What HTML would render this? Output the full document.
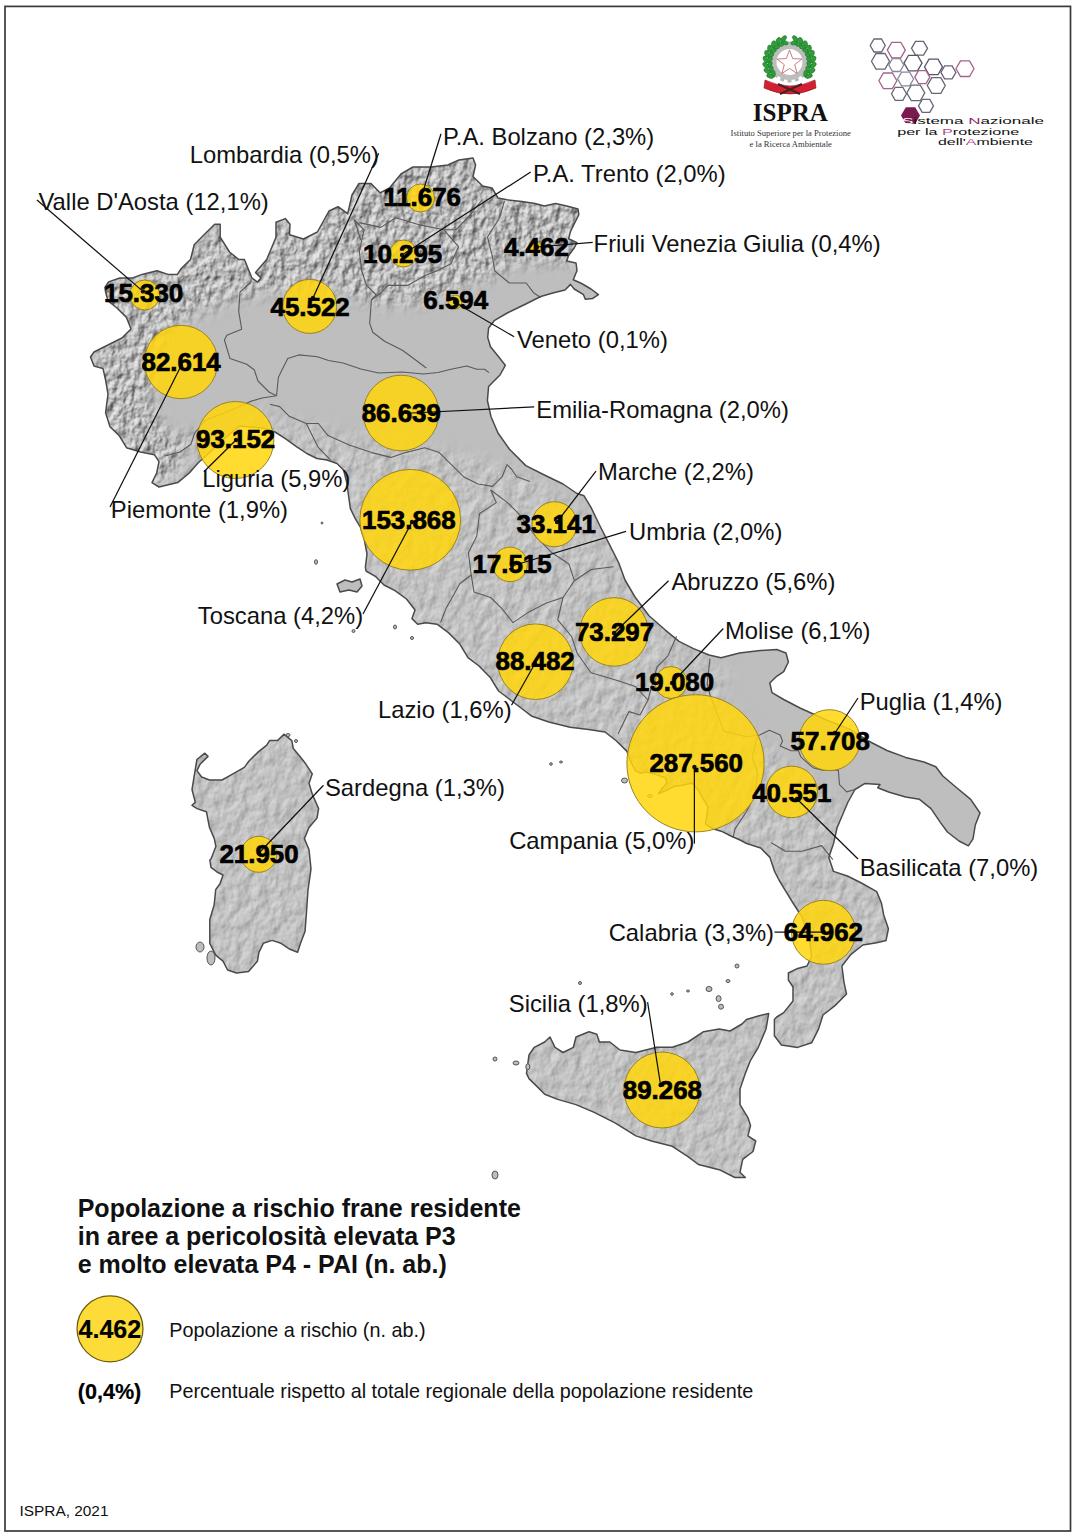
<!DOCTYPE html>
<html><head><meta charset="utf-8"><style>
html,body{margin:0;padding:0;background:#fff;}
body{width:1075px;height:1537px;overflow:hidden;position:relative;}
svg{position:absolute;left:0;top:0;}
text{font-family:"Liberation Sans",sans-serif;fill:#111;}
.lb{font-size:23.8px;}
.nm{font-size:25.9px;font-weight:700;fill:#000;stroke:#000;stroke-width:0.7px;}
.tt{font-size:25px;font-weight:700;}
.lg{font-size:19.8px;}
</style></head><body>
<svg width="1075" height="1537" viewBox="0 0 1075 1537">
<rect x="5" y="6.4" width="1065.5" height="1524.6" fill="none" stroke="#3a3a3a" stroke-width="1.7"/>
<defs><clipPath id="landclip"><path d="M104.9,287.4 L108.6,281.9 L119.8,278.0 L132.8,278.0 L142.0,274.4 L157.0,270.7 L168.0,274.4 L177.4,274.4 L181.0,268.8 L190.5,259.5 L194.2,244.7 L205.3,233.5 L214.7,224.2 L220.2,224.2 L220.2,237.2 L229.5,252.0 L238.8,259.5 L244.4,259.5 L251.9,278.0 L257.4,282.0 L261.0,278.0 L255.6,272.6 L266.7,259.5 L276.0,237.2 L276.0,222.3 L285.3,218.6 L290.0,224.2 L289.5,234.7 L303.5,239.0 L317.4,232.0 L329.0,211.0 L338.0,206.7 L347.7,213.7 L352.0,195.0 L359.0,183.5 L371.0,183.5 L380.0,192.8 L389.5,188.0 L401.0,174.0 L413.0,167.0 L431.0,167.0 L447.7,165.0 L459.0,160.0 L473.0,158.0 L475.6,165.0 L473.0,176.5 L482.6,186.0 L492.0,188.0 L498.0,198.0 L507.0,199.8 L522.0,201.6 L535.0,203.5 L544.4,206.0 L555.6,203.5 L566.7,206.0 L578.0,209.0 L578.8,214.7 L574.2,224.0 L570.5,231.4 L568.6,238.8 L577.0,242.6 L574.2,248.0 L568.6,255.6 L566.7,261.0 L576.0,263.0 L577.0,270.5 L573.3,279.8 L581.6,283.5 L591.0,289.0 L598.4,294.7 L592.8,298.4 L585.3,299.3 L583.5,294.7 L574.2,289.0 L570.5,284.4 L565.0,290.0 L553.7,292.8 L540.7,296.5 L525.8,304.0 L507.2,313.0 L494.2,320.7 L488.6,328.0 L487.7,337.4 L490.5,346.7 L498.0,356.0 L505.3,365.3 L500.0,375.0 L493.0,382.0 L488.6,386.5 L487.4,400.5 L491.0,416.7 L498.0,433.0 L509.5,449.3 L525.8,465.6 L544.4,475.0 L563.0,484.0 L577.0,493.5 L584.0,495.8 L591.0,507.4 L600.0,526.0 L609.5,544.7 L618.8,563.0 L625.0,580.0 L635.0,597.0 L649.0,615.8 L665.0,629.8 L679.0,641.4 L693.0,648.4 L709.0,655.0 L721.0,657.7 L739.5,653.0 L758.0,650.7 L776.7,649.5 L786.0,653.0 L788.4,662.0 L783.7,671.6 L776.7,676.3 L769.8,683.0 L772.0,692.6 L783.7,699.5 L800.0,708.0 L826.5,720.0 L850.0,729.5 L868.4,741.0 L887.0,750.5 L905.6,757.4 L924.0,762.0 L935.8,766.7 L942.8,776.0 L956.7,787.7 L970.7,799.3 L980.0,813.0 L975.3,825.0 L973.0,838.8 L968.4,845.8 L959.0,841.0 L947.4,832.0 L940.5,822.6 L931.0,808.6 L919.5,799.3 L905.6,797.0 L889.3,792.3 L877.7,787.7 L880.0,784.6 L865.0,783.4 L855.0,789.5 L848.0,802.0 L842.0,816.0 L837.0,828.0 L833.5,843.5 L828.8,857.4 L833.5,871.4 L847.4,876.0 L861.4,883.0 L876.7,891.6 L881.4,903.0 L883.7,915.0 L888.4,928.8 L886.0,940.5 L876.7,942.8 L862.8,945.0 L851.0,954.4 L841.9,966.0 L844.0,982.3 L846.5,994.0 L835.0,1005.6 L823.0,1015.0 L818.6,1028.8 L811.6,1042.8 L797.7,1047.4 L781.4,1045.0 L774.4,1035.8 L774.4,1019.5 L776.7,1017.0 L783.7,1012.6 L793.0,1001.0 L793.0,987.0 L788.4,980.0 L788.4,973.0 L797.7,968.4 L807.0,966.0 L811.6,956.7 L809.3,938.0 L802.0,917.0 L793.0,903.0 L786.0,891.6 L779.0,880.0 L774.6,871.4 L770.0,857.4 L760.7,848.0 L746.7,843.5 L740.0,840.0 L731.0,836.0 L721.2,831.2 L712.8,828.8 L705.5,824.0 L706.7,816.7 L708.0,807.0 L703.1,798.6 L698.3,790.1 L692.2,782.9 L682.5,785.3 L674.0,786.5 L666.8,790.1 L658.4,793.8 L660.8,790.1 L666.8,782.9 L665.6,778.0 L656.0,774.4 L646.3,772.0 L640.2,773.2 L635.4,770.8 L630.0,760.0 L627.0,751.4 L616.5,741.0 L605.0,732.0 L588.6,729.5 L570.0,727.2 L548.8,722.0 L532.0,716.3 L521.0,708.0 L509.8,699.5 L498.6,691.0 L490.0,677.2 L479.0,666.0 L468.0,657.7 L459.5,643.7 L448.4,632.6 L437.0,624.2 L426.0,622.8 L417.7,624.2 L412.0,618.6 L415.0,610.0 L406.5,599.0 L395.0,590.7 L384.0,585.0 L375.8,576.7 L366.0,571.0 L365.4,567.4 L367.0,554.0 L363.8,537.0 L360.4,527.2 L355.4,518.8 L350.4,508.7 L348.7,497.0 L347.0,483.6 L343.7,470.2 L337.0,463.5 L327.0,460.0 L316.9,458.5 L306.8,453.5 L296.8,446.8 L285.0,438.4 L275.0,432.0 L262.0,428.0 L250.0,427.0 L239.5,426.0 L225.0,438.0 L210.0,452.0 L198.0,463.0 L189.3,473.0 L177.7,482.6 L159.0,487.0 L152.0,482.6 L156.7,473.0 L159.0,461.6 L154.4,454.7 L140.5,452.0 L126.5,447.7 L119.5,436.0 L110.0,426.7 L105.6,412.8 L108.0,394.0 L105.6,380.0 L103.0,368.6 L94.0,366.0 L90.5,357.0 L94.0,352.0 L108.0,345.0 L121.9,338.0 L131.0,329.0 L126.5,317.4 L117.0,308.0 L108.0,301.0 L105.6,292.0ZM526.5,1073.4 L529.0,1055.0 L534.3,1047.3 L544.7,1042.0 L550.0,1037.0 L555.0,1047.3 L563.0,1052.5 L573.4,1047.3 L576.0,1037.0 L589.0,1031.7 L596.8,1034.3 L599.4,1042.0 L609.8,1042.0 L620.0,1050.0 L635.9,1052.5 L656.7,1047.3 L672.3,1047.3 L688.0,1042.0 L703.6,1031.7 L719.2,1029.0 L730.0,1031.0 L742.0,1024.0 L746.5,1019.5 L758.3,1016.0 L768.7,1013.4 L766.0,1029.0 L758.3,1047.3 L750.5,1060.3 L745.3,1073.4 L740.0,1089.0 L740.0,1104.6 L747.9,1117.6 L750.5,1125.5 L747.9,1135.9 L755.7,1141.0 L753.0,1151.5 L742.7,1159.3 L740.0,1172.3 L745.3,1177.5 L734.9,1177.5 L719.2,1169.7 L698.4,1164.5 L688.0,1156.7 L672.3,1146.3 L651.5,1141.0 L635.9,1135.9 L615.0,1122.8 L594.2,1112.4 L576.0,1104.6 L557.7,1099.4 L544.7,1094.2 L536.9,1086.4 L529.0,1078.6ZM204.8,753.2 L208.0,756.4 L200.0,764.3 L196.9,770.6 L201.6,777.0 L209.5,780.0 L222.0,780.0 L233.0,773.8 L244.3,767.4 L249.0,761.0 L258.6,751.6 L266.5,745.3 L269.6,740.6 L277.5,740.6 L283.9,734.2 L291.8,740.6 L293.3,748.5 L301.2,758.0 L306.0,764.3 L312.3,773.8 L309.0,783.3 L312.3,794.3 L318.6,808.6 L317.0,818.0 L309.0,827.5 L304.4,838.6 L309.0,849.7 L311.0,869.0 L308.0,889.8 L306.5,912.0 L305.0,931.4 L300.5,943.3 L297.6,952.3 L290.0,949.3 L281.0,943.3 L272.0,940.4 L263.3,943.3 L258.9,952.3 L257.4,961.2 L248.5,971.6 L236.5,973.0 L227.6,970.0 L223.0,961.2 L215.7,955.2 L209.8,943.3 L209.8,931.4 L209.8,919.5 L214.2,904.6 L215.7,889.8 L220.0,883.8 L223.0,875.0 L217.0,872.0 L211.0,867.4 L209.8,860.0 L211.0,859.0 L215.9,846.5 L214.3,838.6 L209.5,827.5 L206.4,811.7 L197.0,808.6 L192.0,805.4 L195.3,802.2 L192.0,789.6 L196.9,759.5ZM337.0,584.0 L345.0,580.0 L352.0,582.0 L360.0,579.0 L362.0,586.0 L357.0,592.0 L349.0,590.0 L340.0,592.0Z"/></clipPath><filter id="bl" x="0" y="0" width="1075" height="1537" filterUnits="userSpaceOnUse"><feGaussianBlur stdDeviation="8"/></filter><mask id="mtA" maskUnits="userSpaceOnUse" x="0" y="0" width="1075" height="1537"><g filter="url(#bl)"><path d="M95.0,280.0 L180.0,260.0 L220.0,215.0 L290.0,210.0 L360.0,170.0 L480.0,150.0 L590.0,200.0 L590.0,262.0 L520.0,262.0 L480.0,280.0 L440.0,300.0 L380.0,305.0 L330.0,290.0 L280.0,290.0 L230.0,300.0 L180.0,320.0 L160.0,350.0 L150.0,400.0 L170.0,440.0 L200.0,430.0 L160.0,500.0 L90.0,500.0Z" fill="#fff"/></g></mask><mask id="mtB" maskUnits="userSpaceOnUse" x="0" y="0" width="1075" height="1537"><g filter="url(#bl)"><path d="M150.0,500.0 L200.0,440.0 L260.0,410.0 L330.0,430.0 L420.0,445.0 L520.0,468.0 L600.0,520.0 L640.0,600.0 L690.0,650.0 L730.0,670.0 L720.0,700.0 L760.0,740.0 L840.0,800.0 L860.0,880.0 L900.0,900.0 L900.0,1060.0 L760.0,1060.0 L600.0,740.0 L520.0,720.0 L400.0,630.0 L330.0,500.0Z" fill="#fff"/><path d="M180.0,720.0 L330.0,720.0 L330.0,990.0 L180.0,990.0Z" fill="#fff"/><path d="M490.0,1000.0 L780.0,1000.0 L780.0,1190.0 L490.0,1190.0Z" fill="#fff"/></g></mask><filter id="hsA" x="0" y="0" width="1075" height="1537" filterUnits="userSpaceOnUse" color-interpolation-filters="sRGB"><feTurbulence type="fractalNoise" baseFrequency="0.12 0.09" numOctaves="3" seed="11" result="n"/><feDiffuseLighting in="n" surfaceScale="3.4" diffuseConstant="1.02" lighting-color="#ffffff"><feDistantLight azimuth="225" elevation="45"/></feDiffuseLighting></filter><filter id="hsB" x="0" y="0" width="1075" height="1537" filterUnits="userSpaceOnUse" color-interpolation-filters="sRGB"><feTurbulence type="fractalNoise" baseFrequency="0.09 0.07" numOctaves="3" seed="5" result="n"/><feDiffuseLighting in="n" surfaceScale="1.7" diffuseConstant="1.0" lighting-color="#ffffff"><feDistantLight azimuth="225" elevation="50"/></feDiffuseLighting></filter></defs>
<path d="M104.9,287.4 L108.6,281.9 L119.8,278.0 L132.8,278.0 L142.0,274.4 L157.0,270.7 L168.0,274.4 L177.4,274.4 L181.0,268.8 L190.5,259.5 L194.2,244.7 L205.3,233.5 L214.7,224.2 L220.2,224.2 L220.2,237.2 L229.5,252.0 L238.8,259.5 L244.4,259.5 L251.9,278.0 L257.4,282.0 L261.0,278.0 L255.6,272.6 L266.7,259.5 L276.0,237.2 L276.0,222.3 L285.3,218.6 L290.0,224.2 L289.5,234.7 L303.5,239.0 L317.4,232.0 L329.0,211.0 L338.0,206.7 L347.7,213.7 L352.0,195.0 L359.0,183.5 L371.0,183.5 L380.0,192.8 L389.5,188.0 L401.0,174.0 L413.0,167.0 L431.0,167.0 L447.7,165.0 L459.0,160.0 L473.0,158.0 L475.6,165.0 L473.0,176.5 L482.6,186.0 L492.0,188.0 L498.0,198.0 L507.0,199.8 L522.0,201.6 L535.0,203.5 L544.4,206.0 L555.6,203.5 L566.7,206.0 L578.0,209.0 L578.8,214.7 L574.2,224.0 L570.5,231.4 L568.6,238.8 L577.0,242.6 L574.2,248.0 L568.6,255.6 L566.7,261.0 L576.0,263.0 L577.0,270.5 L573.3,279.8 L581.6,283.5 L591.0,289.0 L598.4,294.7 L592.8,298.4 L585.3,299.3 L583.5,294.7 L574.2,289.0 L570.5,284.4 L565.0,290.0 L553.7,292.8 L540.7,296.5 L525.8,304.0 L507.2,313.0 L494.2,320.7 L488.6,328.0 L487.7,337.4 L490.5,346.7 L498.0,356.0 L505.3,365.3 L500.0,375.0 L493.0,382.0 L488.6,386.5 L487.4,400.5 L491.0,416.7 L498.0,433.0 L509.5,449.3 L525.8,465.6 L544.4,475.0 L563.0,484.0 L577.0,493.5 L584.0,495.8 L591.0,507.4 L600.0,526.0 L609.5,544.7 L618.8,563.0 L625.0,580.0 L635.0,597.0 L649.0,615.8 L665.0,629.8 L679.0,641.4 L693.0,648.4 L709.0,655.0 L721.0,657.7 L739.5,653.0 L758.0,650.7 L776.7,649.5 L786.0,653.0 L788.4,662.0 L783.7,671.6 L776.7,676.3 L769.8,683.0 L772.0,692.6 L783.7,699.5 L800.0,708.0 L826.5,720.0 L850.0,729.5 L868.4,741.0 L887.0,750.5 L905.6,757.4 L924.0,762.0 L935.8,766.7 L942.8,776.0 L956.7,787.7 L970.7,799.3 L980.0,813.0 L975.3,825.0 L973.0,838.8 L968.4,845.8 L959.0,841.0 L947.4,832.0 L940.5,822.6 L931.0,808.6 L919.5,799.3 L905.6,797.0 L889.3,792.3 L877.7,787.7 L880.0,784.6 L865.0,783.4 L855.0,789.5 L848.0,802.0 L842.0,816.0 L837.0,828.0 L833.5,843.5 L828.8,857.4 L833.5,871.4 L847.4,876.0 L861.4,883.0 L876.7,891.6 L881.4,903.0 L883.7,915.0 L888.4,928.8 L886.0,940.5 L876.7,942.8 L862.8,945.0 L851.0,954.4 L841.9,966.0 L844.0,982.3 L846.5,994.0 L835.0,1005.6 L823.0,1015.0 L818.6,1028.8 L811.6,1042.8 L797.7,1047.4 L781.4,1045.0 L774.4,1035.8 L774.4,1019.5 L776.7,1017.0 L783.7,1012.6 L793.0,1001.0 L793.0,987.0 L788.4,980.0 L788.4,973.0 L797.7,968.4 L807.0,966.0 L811.6,956.7 L809.3,938.0 L802.0,917.0 L793.0,903.0 L786.0,891.6 L779.0,880.0 L774.6,871.4 L770.0,857.4 L760.7,848.0 L746.7,843.5 L740.0,840.0 L731.0,836.0 L721.2,831.2 L712.8,828.8 L705.5,824.0 L706.7,816.7 L708.0,807.0 L703.1,798.6 L698.3,790.1 L692.2,782.9 L682.5,785.3 L674.0,786.5 L666.8,790.1 L658.4,793.8 L660.8,790.1 L666.8,782.9 L665.6,778.0 L656.0,774.4 L646.3,772.0 L640.2,773.2 L635.4,770.8 L630.0,760.0 L627.0,751.4 L616.5,741.0 L605.0,732.0 L588.6,729.5 L570.0,727.2 L548.8,722.0 L532.0,716.3 L521.0,708.0 L509.8,699.5 L498.6,691.0 L490.0,677.2 L479.0,666.0 L468.0,657.7 L459.5,643.7 L448.4,632.6 L437.0,624.2 L426.0,622.8 L417.7,624.2 L412.0,618.6 L415.0,610.0 L406.5,599.0 L395.0,590.7 L384.0,585.0 L375.8,576.7 L366.0,571.0 L365.4,567.4 L367.0,554.0 L363.8,537.0 L360.4,527.2 L355.4,518.8 L350.4,508.7 L348.7,497.0 L347.0,483.6 L343.7,470.2 L337.0,463.5 L327.0,460.0 L316.9,458.5 L306.8,453.5 L296.8,446.8 L285.0,438.4 L275.0,432.0 L262.0,428.0 L250.0,427.0 L239.5,426.0 L225.0,438.0 L210.0,452.0 L198.0,463.0 L189.3,473.0 L177.7,482.6 L159.0,487.0 L152.0,482.6 L156.7,473.0 L159.0,461.6 L154.4,454.7 L140.5,452.0 L126.5,447.7 L119.5,436.0 L110.0,426.7 L105.6,412.8 L108.0,394.0 L105.6,380.0 L103.0,368.6 L94.0,366.0 L90.5,357.0 L94.0,352.0 L108.0,345.0 L121.9,338.0 L131.0,329.0 L126.5,317.4 L117.0,308.0 L108.0,301.0 L105.6,292.0ZM526.5,1073.4 L529.0,1055.0 L534.3,1047.3 L544.7,1042.0 L550.0,1037.0 L555.0,1047.3 L563.0,1052.5 L573.4,1047.3 L576.0,1037.0 L589.0,1031.7 L596.8,1034.3 L599.4,1042.0 L609.8,1042.0 L620.0,1050.0 L635.9,1052.5 L656.7,1047.3 L672.3,1047.3 L688.0,1042.0 L703.6,1031.7 L719.2,1029.0 L730.0,1031.0 L742.0,1024.0 L746.5,1019.5 L758.3,1016.0 L768.7,1013.4 L766.0,1029.0 L758.3,1047.3 L750.5,1060.3 L745.3,1073.4 L740.0,1089.0 L740.0,1104.6 L747.9,1117.6 L750.5,1125.5 L747.9,1135.9 L755.7,1141.0 L753.0,1151.5 L742.7,1159.3 L740.0,1172.3 L745.3,1177.5 L734.9,1177.5 L719.2,1169.7 L698.4,1164.5 L688.0,1156.7 L672.3,1146.3 L651.5,1141.0 L635.9,1135.9 L615.0,1122.8 L594.2,1112.4 L576.0,1104.6 L557.7,1099.4 L544.7,1094.2 L536.9,1086.4 L529.0,1078.6ZM204.8,753.2 L208.0,756.4 L200.0,764.3 L196.9,770.6 L201.6,777.0 L209.5,780.0 L222.0,780.0 L233.0,773.8 L244.3,767.4 L249.0,761.0 L258.6,751.6 L266.5,745.3 L269.6,740.6 L277.5,740.6 L283.9,734.2 L291.8,740.6 L293.3,748.5 L301.2,758.0 L306.0,764.3 L312.3,773.8 L309.0,783.3 L312.3,794.3 L318.6,808.6 L317.0,818.0 L309.0,827.5 L304.4,838.6 L309.0,849.7 L311.0,869.0 L308.0,889.8 L306.5,912.0 L305.0,931.4 L300.5,943.3 L297.6,952.3 L290.0,949.3 L281.0,943.3 L272.0,940.4 L263.3,943.3 L258.9,952.3 L257.4,961.2 L248.5,971.6 L236.5,973.0 L227.6,970.0 L223.0,961.2 L215.7,955.2 L209.8,943.3 L209.8,931.4 L209.8,919.5 L214.2,904.6 L215.7,889.8 L220.0,883.8 L223.0,875.0 L217.0,872.0 L211.0,867.4 L209.8,860.0 L211.0,859.0 L215.9,846.5 L214.3,838.6 L209.5,827.5 L206.4,811.7 L197.0,808.6 L192.0,805.4 L195.3,802.2 L192.0,789.6 L196.9,759.5ZM337.0,584.0 L345.0,580.0 L352.0,582.0 L360.0,579.0 L362.0,586.0 L357.0,592.0 L349.0,590.0 L340.0,592.0Z" fill="#bebebe"/>
<g clip-path="url(#landclip)"><g mask="url(#mtA)"><rect x="0" y="0" width="1075" height="1537" filter="url(#hsA)" opacity="0.62"/></g><g mask="url(#mtB)"><rect x="0" y="0" width="1075" height="1537" filter="url(#hsB)" opacity="0.5"/></g></g>
<polyline points="251,282 240,292 238.7,311.4 241.7,329.3 226.8,335.3 224.4,340 230,358.6 246.7,364.2 254.2,369.8 258,381 269,392 276.5,395.8" fill="none" stroke="#5a5a5a" stroke-width="1.1" stroke-linejoin="round"/>
<polyline points="276.5,395.8 278.4,377.2 287.7,358.6 298.8,354.9 317.4,356.7 328.6,360.5 343,363 360.8,369 378.6,373 402.4,372 423.3,374 438,372.5 451,369.3 466.8,366 476.8,369.3 484.6,369.3 489,372.6" fill="none" stroke="#5a5a5a" stroke-width="1.1" stroke-linejoin="round"/>
<polyline points="276.5,395.8 262,398 250.5,401.4 230,410.7 205.8,420 194.7,433 191,444.2 180,452 165,456" fill="none" stroke="#5a5a5a" stroke-width="1.1" stroke-linejoin="round"/>
<polyline points="270,404.2 279.7,406.6 289.3,416.3 306.3,423.5 318.4,423.5 328,435.6 349.8,445.3 371.6,452.6 391,457.4 405.4,452.6 424.8,447.7 439.3,452.6 451.4,464.6 463.5,476.7 478,484 492.5,486.4 502.2,476.7 507,464.6 511.8,469.5 516.7,476.7 530,481.6" fill="none" stroke="#5a5a5a" stroke-width="1.1" stroke-linejoin="round"/>
<polyline points="306.3,423.5 312,435 318.4,447.7 330.5,459.8" fill="none" stroke="#5a5a5a" stroke-width="1.1" stroke-linejoin="round"/>
<polyline points="360.8,240 354.5,220" fill="none" stroke="#5a5a5a" stroke-width="1.1" stroke-linejoin="round"/>
<polyline points="354.5,220 364,230 359.3,251.6 361.8,271 366.6,285.4 376.3,295 371.4,300 369.7,323.4 372.7,332.3 384.6,341.2 402.4,350.2 414.3,359 426.3,368" fill="none" stroke="#5a5a5a" stroke-width="1.1" stroke-linejoin="round"/>
<polyline points="359.3,222.6 381,227.4 395.6,217.7 420,225 444,229.8 456,229.8 470,215 482,200" fill="none" stroke="#5a5a5a" stroke-width="1.1" stroke-linejoin="round"/>
<polyline points="444,229.8 458.5,246.7 451,263.7 436.7,271 424.6,275.8 407.7,285.4 388.4,285.4 381,292.7 371.4,300" fill="none" stroke="#5a5a5a" stroke-width="1.1" stroke-linejoin="round"/>
<polyline points="504.5,200.8 499.6,217.7 487.5,237 492.4,256.4 494.8,271 509.3,283 526.2,283 533.5,292.7 540.7,297.5" fill="none" stroke="#5a5a5a" stroke-width="1.1" stroke-linejoin="round"/>
<polyline points="490.7,490 496.3,502.6 479.5,513.7 476.8,536 468.4,552.8 471.2,575 460,583.5 446,608.6 440.5,622.6" fill="none" stroke="#5a5a5a" stroke-width="1.1" stroke-linejoin="round"/>
<polyline points="490.7,490 507.5,502.6 518.6,513.7 535.4,536 552,552.8 568.9,564 574.4,580.7 563,597.5 546.5,603 529.8,611.4 513,622.6 501.9,608.6 490.7,597.5 474,592 471.2,575" fill="none" stroke="#5a5a5a" stroke-width="1.1" stroke-linejoin="round"/>
<polyline points="613.5,566.8 591.2,569.5 574.4,580.7" fill="none" stroke="#5a5a5a" stroke-width="1.1" stroke-linejoin="round"/>
<polyline points="563,597.5 557.7,619.8 571.6,636.5 577.2,653.3 591,672.8 619,681 635.8,686.8 648,700 640,715 629,711.6 618,734" fill="none" stroke="#5a5a5a" stroke-width="1.1" stroke-linejoin="round"/>
<polyline points="676.5,636.3 668,655.8 657,667 648,700" fill="none" stroke="#5a5a5a" stroke-width="1.1" stroke-linejoin="round"/>
<polyline points="710,658.6 707.2,683.7 710,695 724,731.2 746.3,736.7 759.7,735 769.3,730.2 780.2,735 782.6,741.1 780.2,746 791.1,750.8 798.4,750.8 800.8,756.8 812.9,767.7 822.6,770.1 838.3,770 839.5,784.6 846.7,791.9 855,789.5" fill="none" stroke="#5a5a5a" stroke-width="1.1" stroke-linejoin="round"/>
<polyline points="757.5,736.7 752,756.3 757.5,773 754.7,795.4 746.3,812 735,828.9 733,838" fill="none" stroke="#5a5a5a" stroke-width="1.1" stroke-linejoin="round"/>
<polyline points="771.4,842.8 785.4,851.2 802,851.2 821.6,845.6 832.8,859.6" fill="none" stroke="#5a5a5a" stroke-width="1.1" stroke-linejoin="round"/>
<path d="M104.9,287.4 L108.6,281.9 L119.8,278.0 L132.8,278.0 L142.0,274.4 L157.0,270.7 L168.0,274.4 L177.4,274.4 L181.0,268.8 L190.5,259.5 L194.2,244.7 L205.3,233.5 L214.7,224.2 L220.2,224.2 L220.2,237.2 L229.5,252.0 L238.8,259.5 L244.4,259.5 L251.9,278.0 L257.4,282.0 L261.0,278.0 L255.6,272.6 L266.7,259.5 L276.0,237.2 L276.0,222.3 L285.3,218.6 L290.0,224.2 L289.5,234.7 L303.5,239.0 L317.4,232.0 L329.0,211.0 L338.0,206.7 L347.7,213.7 L352.0,195.0 L359.0,183.5 L371.0,183.5 L380.0,192.8 L389.5,188.0 L401.0,174.0 L413.0,167.0 L431.0,167.0 L447.7,165.0 L459.0,160.0 L473.0,158.0 L475.6,165.0 L473.0,176.5 L482.6,186.0 L492.0,188.0 L498.0,198.0 L507.0,199.8 L522.0,201.6 L535.0,203.5 L544.4,206.0 L555.6,203.5 L566.7,206.0 L578.0,209.0 L578.8,214.7 L574.2,224.0 L570.5,231.4 L568.6,238.8 L577.0,242.6 L574.2,248.0 L568.6,255.6 L566.7,261.0 L576.0,263.0 L577.0,270.5 L573.3,279.8 L581.6,283.5 L591.0,289.0 L598.4,294.7 L592.8,298.4 L585.3,299.3 L583.5,294.7 L574.2,289.0 L570.5,284.4 L565.0,290.0 L553.7,292.8 L540.7,296.5 L525.8,304.0 L507.2,313.0 L494.2,320.7 L488.6,328.0 L487.7,337.4 L490.5,346.7 L498.0,356.0 L505.3,365.3 L500.0,375.0 L493.0,382.0 L488.6,386.5 L487.4,400.5 L491.0,416.7 L498.0,433.0 L509.5,449.3 L525.8,465.6 L544.4,475.0 L563.0,484.0 L577.0,493.5 L584.0,495.8 L591.0,507.4 L600.0,526.0 L609.5,544.7 L618.8,563.0 L625.0,580.0 L635.0,597.0 L649.0,615.8 L665.0,629.8 L679.0,641.4 L693.0,648.4 L709.0,655.0 L721.0,657.7 L739.5,653.0 L758.0,650.7 L776.7,649.5 L786.0,653.0 L788.4,662.0 L783.7,671.6 L776.7,676.3 L769.8,683.0 L772.0,692.6 L783.7,699.5 L800.0,708.0 L826.5,720.0 L850.0,729.5 L868.4,741.0 L887.0,750.5 L905.6,757.4 L924.0,762.0 L935.8,766.7 L942.8,776.0 L956.7,787.7 L970.7,799.3 L980.0,813.0 L975.3,825.0 L973.0,838.8 L968.4,845.8 L959.0,841.0 L947.4,832.0 L940.5,822.6 L931.0,808.6 L919.5,799.3 L905.6,797.0 L889.3,792.3 L877.7,787.7 L880.0,784.6 L865.0,783.4 L855.0,789.5 L848.0,802.0 L842.0,816.0 L837.0,828.0 L833.5,843.5 L828.8,857.4 L833.5,871.4 L847.4,876.0 L861.4,883.0 L876.7,891.6 L881.4,903.0 L883.7,915.0 L888.4,928.8 L886.0,940.5 L876.7,942.8 L862.8,945.0 L851.0,954.4 L841.9,966.0 L844.0,982.3 L846.5,994.0 L835.0,1005.6 L823.0,1015.0 L818.6,1028.8 L811.6,1042.8 L797.7,1047.4 L781.4,1045.0 L774.4,1035.8 L774.4,1019.5 L776.7,1017.0 L783.7,1012.6 L793.0,1001.0 L793.0,987.0 L788.4,980.0 L788.4,973.0 L797.7,968.4 L807.0,966.0 L811.6,956.7 L809.3,938.0 L802.0,917.0 L793.0,903.0 L786.0,891.6 L779.0,880.0 L774.6,871.4 L770.0,857.4 L760.7,848.0 L746.7,843.5 L740.0,840.0 L731.0,836.0 L721.2,831.2 L712.8,828.8 L705.5,824.0 L706.7,816.7 L708.0,807.0 L703.1,798.6 L698.3,790.1 L692.2,782.9 L682.5,785.3 L674.0,786.5 L666.8,790.1 L658.4,793.8 L660.8,790.1 L666.8,782.9 L665.6,778.0 L656.0,774.4 L646.3,772.0 L640.2,773.2 L635.4,770.8 L630.0,760.0 L627.0,751.4 L616.5,741.0 L605.0,732.0 L588.6,729.5 L570.0,727.2 L548.8,722.0 L532.0,716.3 L521.0,708.0 L509.8,699.5 L498.6,691.0 L490.0,677.2 L479.0,666.0 L468.0,657.7 L459.5,643.7 L448.4,632.6 L437.0,624.2 L426.0,622.8 L417.7,624.2 L412.0,618.6 L415.0,610.0 L406.5,599.0 L395.0,590.7 L384.0,585.0 L375.8,576.7 L366.0,571.0 L365.4,567.4 L367.0,554.0 L363.8,537.0 L360.4,527.2 L355.4,518.8 L350.4,508.7 L348.7,497.0 L347.0,483.6 L343.7,470.2 L337.0,463.5 L327.0,460.0 L316.9,458.5 L306.8,453.5 L296.8,446.8 L285.0,438.4 L275.0,432.0 L262.0,428.0 L250.0,427.0 L239.5,426.0 L225.0,438.0 L210.0,452.0 L198.0,463.0 L189.3,473.0 L177.7,482.6 L159.0,487.0 L152.0,482.6 L156.7,473.0 L159.0,461.6 L154.4,454.7 L140.5,452.0 L126.5,447.7 L119.5,436.0 L110.0,426.7 L105.6,412.8 L108.0,394.0 L105.6,380.0 L103.0,368.6 L94.0,366.0 L90.5,357.0 L94.0,352.0 L108.0,345.0 L121.9,338.0 L131.0,329.0 L126.5,317.4 L117.0,308.0 L108.0,301.0 L105.6,292.0ZM526.5,1073.4 L529.0,1055.0 L534.3,1047.3 L544.7,1042.0 L550.0,1037.0 L555.0,1047.3 L563.0,1052.5 L573.4,1047.3 L576.0,1037.0 L589.0,1031.7 L596.8,1034.3 L599.4,1042.0 L609.8,1042.0 L620.0,1050.0 L635.9,1052.5 L656.7,1047.3 L672.3,1047.3 L688.0,1042.0 L703.6,1031.7 L719.2,1029.0 L730.0,1031.0 L742.0,1024.0 L746.5,1019.5 L758.3,1016.0 L768.7,1013.4 L766.0,1029.0 L758.3,1047.3 L750.5,1060.3 L745.3,1073.4 L740.0,1089.0 L740.0,1104.6 L747.9,1117.6 L750.5,1125.5 L747.9,1135.9 L755.7,1141.0 L753.0,1151.5 L742.7,1159.3 L740.0,1172.3 L745.3,1177.5 L734.9,1177.5 L719.2,1169.7 L698.4,1164.5 L688.0,1156.7 L672.3,1146.3 L651.5,1141.0 L635.9,1135.9 L615.0,1122.8 L594.2,1112.4 L576.0,1104.6 L557.7,1099.4 L544.7,1094.2 L536.9,1086.4 L529.0,1078.6ZM204.8,753.2 L208.0,756.4 L200.0,764.3 L196.9,770.6 L201.6,777.0 L209.5,780.0 L222.0,780.0 L233.0,773.8 L244.3,767.4 L249.0,761.0 L258.6,751.6 L266.5,745.3 L269.6,740.6 L277.5,740.6 L283.9,734.2 L291.8,740.6 L293.3,748.5 L301.2,758.0 L306.0,764.3 L312.3,773.8 L309.0,783.3 L312.3,794.3 L318.6,808.6 L317.0,818.0 L309.0,827.5 L304.4,838.6 L309.0,849.7 L311.0,869.0 L308.0,889.8 L306.5,912.0 L305.0,931.4 L300.5,943.3 L297.6,952.3 L290.0,949.3 L281.0,943.3 L272.0,940.4 L263.3,943.3 L258.9,952.3 L257.4,961.2 L248.5,971.6 L236.5,973.0 L227.6,970.0 L223.0,961.2 L215.7,955.2 L209.8,943.3 L209.8,931.4 L209.8,919.5 L214.2,904.6 L215.7,889.8 L220.0,883.8 L223.0,875.0 L217.0,872.0 L211.0,867.4 L209.8,860.0 L211.0,859.0 L215.9,846.5 L214.3,838.6 L209.5,827.5 L206.4,811.7 L197.0,808.6 L192.0,805.4 L195.3,802.2 L192.0,789.6 L196.9,759.5ZM337.0,584.0 L345.0,580.0 L352.0,582.0 L360.0,579.0 L362.0,586.0 L357.0,592.0 L349.0,590.0 L340.0,592.0Z" fill="none" stroke="#4a4a4a" stroke-width="1.5" stroke-linejoin="round"/>
<ellipse cx="624.5" cy="780.5" rx="3" ry="2.5" fill="#bdbdbd" stroke="#555" stroke-width="1"/>
<ellipse cx="650" cy="796" rx="2.5" ry="1.5" fill="#bdbdbd" stroke="#555" stroke-width="1"/>
<ellipse cx="353.5" cy="631" rx="1.5" ry="1.5" fill="#bdbdbd" stroke="#555" stroke-width="1"/>
<ellipse cx="395" cy="627" rx="1.5" ry="2" fill="#bdbdbd" stroke="#555" stroke-width="1"/>
<ellipse cx="412" cy="638" rx="1.5" ry="1.5" fill="#bdbdbd" stroke="#555" stroke-width="1"/>
<ellipse cx="322" cy="523" rx="1" ry="1" fill="#bdbdbd" stroke="#555" stroke-width="1"/>
<ellipse cx="316" cy="562" rx="1.5" ry="2.3" fill="#bdbdbd" stroke="#555" stroke-width="1"/>
<ellipse cx="551" cy="764" rx="1.3" ry="1.3" fill="#bdbdbd" stroke="#555" stroke-width="1"/>
<ellipse cx="561" cy="762" rx="1.5" ry="1" fill="#bdbdbd" stroke="#555" stroke-width="1"/>
<ellipse cx="580" cy="983" rx="1.5" ry="1.5" fill="#bdbdbd" stroke="#555" stroke-width="1"/>
<ellipse cx="288" cy="735" rx="2" ry="1.5" fill="#bdbdbd" stroke="#555" stroke-width="1"/>
<ellipse cx="296" cy="741" rx="1.5" ry="1.5" fill="#bdbdbd" stroke="#555" stroke-width="1"/>
<ellipse cx="672" cy="994" rx="1.3" ry="1.3" fill="#bdbdbd" stroke="#555" stroke-width="1"/>
<ellipse cx="688" cy="991" rx="1.5" ry="1" fill="#bdbdbd" stroke="#555" stroke-width="1"/>
<ellipse cx="709" cy="989" rx="3" ry="2.5" fill="#bdbdbd" stroke="#555" stroke-width="1"/>
<ellipse cx="718.6" cy="998.6" rx="2.5" ry="3" fill="#bdbdbd" stroke="#555" stroke-width="1"/>
<ellipse cx="721" cy="1006.7" rx="2.5" ry="2.5" fill="#bdbdbd" stroke="#555" stroke-width="1"/>
<ellipse cx="728" cy="981" rx="2" ry="1.5" fill="#bdbdbd" stroke="#555" stroke-width="1"/>
<ellipse cx="737" cy="966" rx="2" ry="2" fill="#bdbdbd" stroke="#555" stroke-width="1"/>
<ellipse cx="495" cy="1059" rx="2" ry="2" fill="#bdbdbd" stroke="#555" stroke-width="1"/>
<ellipse cx="516" cy="1063" rx="3" ry="2" fill="#bdbdbd" stroke="#555" stroke-width="1"/>
<ellipse cx="527.8" cy="1066.8" rx="2" ry="3" fill="#bdbdbd" stroke="#555" stroke-width="1"/>
<ellipse cx="495" cy="1175" rx="3" ry="4" fill="#bdbdbd" stroke="#555" stroke-width="1"/>
<ellipse cx="200" cy="947" rx="4" ry="5" fill="#bdbdbd" stroke="#555" stroke-width="1"/>
<ellipse cx="211" cy="958" rx="4" ry="7" fill="#bdbdbd" stroke="#555" stroke-width="1"/>
<ellipse cx="365" cy="525" rx="1" ry="1" fill="#bdbdbd" stroke="#555" stroke-width="1"/>
<circle cx="144.7" cy="295" r="15" fill="#ffd60a" fill-opacity="0.85" stroke="#9a8420" stroke-width="1"/>
<circle cx="309.7" cy="306.4" r="27" fill="#ffd60a" fill-opacity="0.85" stroke="#9a8420" stroke-width="1"/>
<circle cx="420.6" cy="198" r="14" fill="#ffd60a" fill-opacity="0.85" stroke="#9a8420" stroke-width="1"/>
<circle cx="403.3" cy="253.5" r="13.5" fill="#ffd60a" fill-opacity="0.85" stroke="#9a8420" stroke-width="1"/>
<circle cx="535.8" cy="247.4" r="6" fill="#ffd60a" fill-opacity="0.85" stroke="#9a8420" stroke-width="1"/>
<circle cx="455" cy="302" r="7" fill="#ffd60a" fill-opacity="0.85" stroke="#9a8420" stroke-width="1"/>
<circle cx="181" cy="362" r="36.7" fill="#ffd60a" fill-opacity="0.85" stroke="#9a8420" stroke-width="1"/>
<circle cx="401" cy="413" r="37.8" fill="#ffd60a" fill-opacity="0.85" stroke="#9a8420" stroke-width="1"/>
<circle cx="235.4" cy="440" r="38.5" fill="#ffd60a" fill-opacity="0.85" stroke="#9a8420" stroke-width="1"/>
<circle cx="410.2" cy="519.8" r="50.4" fill="#ffd60a" fill-opacity="0.85" stroke="#9a8420" stroke-width="1"/>
<circle cx="554.5" cy="524.2" r="22.5" fill="#ffd60a" fill-opacity="0.85" stroke="#9a8420" stroke-width="1"/>
<circle cx="510" cy="564.4" r="17.3" fill="#ffd60a" fill-opacity="0.85" stroke="#9a8420" stroke-width="1"/>
<circle cx="614" cy="631.9" r="34.3" fill="#ffd60a" fill-opacity="0.85" stroke="#9a8420" stroke-width="1"/>
<circle cx="535.5" cy="661.7" r="37.8" fill="#ffd60a" fill-opacity="0.85" stroke="#9a8420" stroke-width="1"/>
<circle cx="671" cy="682.5" r="16" fill="#ffd60a" fill-opacity="0.85" stroke="#9a8420" stroke-width="1"/>
<circle cx="695.5" cy="763.3" r="68.6" fill="#ffd60a" fill-opacity="0.85" stroke="#9a8420" stroke-width="1"/>
<circle cx="829.5" cy="740.2" r="30.5" fill="#ffd60a" fill-opacity="0.85" stroke="#9a8420" stroke-width="1"/>
<circle cx="791.7" cy="791.9" r="25.8" fill="#ffd60a" fill-opacity="0.85" stroke="#9a8420" stroke-width="1"/>
<circle cx="823.5" cy="932.3" r="32" fill="#ffd60a" fill-opacity="0.85" stroke="#9a8420" stroke-width="1"/>
<circle cx="662" cy="1090" r="38" fill="#ffd60a" fill-opacity="0.85" stroke="#9a8420" stroke-width="1"/>
<circle cx="258.8" cy="854.3" r="18" fill="#ffd60a" fill-opacity="0.85" stroke="#9a8420" stroke-width="1"/>
<line x1="37" y1="200" x2="143" y2="291.4" stroke="#111" stroke-width="1.25"/>
<line x1="378.7" y1="153.3" x2="313" y2="298" stroke="#111" stroke-width="1.25"/>
<line x1="441" y1="133.7" x2="421" y2="198" stroke="#111" stroke-width="1.25"/>
<line x1="530.7" y1="172" x2="402" y2="255" stroke="#111" stroke-width="1.25"/>
<line x1="592.7" y1="242.3" x2="537" y2="247" stroke="#111" stroke-width="1.25"/>
<line x1="462" y1="306.5" x2="514.2" y2="336.8" stroke="#111" stroke-width="1.25"/>
<line x1="455" y1="302" x2="462" y2="306.5" stroke="#111" stroke-width="1.25"/>
<line x1="534.2" y1="406.9" x2="402" y2="413.5" stroke="#111" stroke-width="1.25"/>
<line x1="203.9" y1="471.8" x2="236" y2="440" stroke="#111" stroke-width="1.25"/>
<line x1="110" y1="507" x2="181" y2="366" stroke="#111" stroke-width="1.25"/>
<line x1="596" y1="471.2" x2="557" y2="522" stroke="#111" stroke-width="1.25"/>
<line x1="626" y1="531.3" x2="512" y2="566" stroke="#111" stroke-width="1.25"/>
<line x1="363" y1="614" x2="412" y2="522" stroke="#111" stroke-width="1.25"/>
<line x1="668.6" y1="580.8" x2="614" y2="633" stroke="#111" stroke-width="1.25"/>
<line x1="723.3" y1="628.5" x2="672" y2="683" stroke="#111" stroke-width="1.25"/>
<line x1="511.5" y1="705.2" x2="535" y2="663.5" stroke="#111" stroke-width="1.25"/>
<line x1="694.4" y1="767" x2="694.4" y2="843.7" stroke="#111" stroke-width="1.25"/>
<line x1="858" y1="698" x2="835" y2="733" stroke="#111" stroke-width="1.25"/>
<line x1="797" y1="799" x2="858" y2="859" stroke="#111" stroke-width="1.25"/>
<line x1="774.5" y1="932" x2="823.6" y2="932" stroke="#111" stroke-width="1.25"/>
<line x1="647.6" y1="1002.1" x2="660.6" y2="1085" stroke="#111" stroke-width="1.25"/>
<line x1="323.5" y1="785.3" x2="259" y2="853" stroke="#111" stroke-width="1.25"/>
<circle cx="143" cy="291.4" r="2.2" fill="#111"/>
<circle cx="313" cy="298" r="2.2" fill="#111"/>
<circle cx="421" cy="198" r="2.2" fill="#111"/>
<circle cx="402" cy="255" r="2.2" fill="#111"/>
<circle cx="537" cy="247" r="2.2" fill="#111"/>
<circle cx="455" cy="302" r="2.2" fill="#111"/>
<circle cx="402" cy="413.5" r="2.2" fill="#111"/>
<circle cx="236" cy="440" r="2.2" fill="#111"/>
<circle cx="181" cy="366" r="2.2" fill="#111"/>
<circle cx="557" cy="522" r="2.2" fill="#111"/>
<circle cx="512" cy="566" r="2.2" fill="#111"/>
<circle cx="412" cy="522" r="2.2" fill="#111"/>
<circle cx="614" cy="633" r="2.2" fill="#111"/>
<circle cx="672" cy="683" r="2.2" fill="#111"/>
<circle cx="535" cy="663.5" r="2.2" fill="#111"/>
<circle cx="694.4" cy="767" r="2.2" fill="#111"/>
<circle cx="835" cy="733" r="2.2" fill="#111"/>
<circle cx="797" cy="799" r="2.2" fill="#111"/>
<circle cx="823.6" cy="932" r="2.2" fill="#111"/>
<circle cx="660.6" cy="1085" r="2.2" fill="#111"/>
<circle cx="259" cy="853" r="2.2" fill="#111"/>
<text x="38.5" y="210.1" class="lb">Valle D&#39;Aosta (12,1%)</text>
<text x="189.8" y="162.5" class="lb">Lombardia (0,5%)</text>
<text x="443" y="145.0" class="lb">P.A. Bolzano (2,3%)</text>
<text x="533" y="181.8" class="lb">P.A. Trento (2,0%)</text>
<text x="593.6" y="251.8" class="lb">Friuli Venezia Giulia (0,4%)</text>
<text x="517" y="348.4" class="lb">Veneto (0,1%)</text>
<text x="536.3" y="418.0" class="lb">Emilia-Romagna (2,0%)</text>
<text x="202.2" y="486.7" class="lb">Liguria (5,9%)</text>
<text x="110.8" y="517.9" class="lb">Piemonte (1,9%)</text>
<text x="597.9" y="479.8" class="lb">Marche (2,2%)</text>
<text x="629" y="539.9" class="lb">Umbria (2,0%)</text>
<text x="197.8" y="624.0" class="lb">Toscana (4,2%)</text>
<text x="671.4" y="590.1" class="lb">Abruzzo (5,6%)</text>
<text x="725" y="638.8" class="lb">Molise (6,1%)</text>
<text x="378" y="718.3" class="lb">Lazio (1,6%)</text>
<text x="859.7" y="709.6" class="lb">Puglia (1,4%)</text>
<text x="509.2" y="849.3" class="lb">Campania (5,0%)</text>
<text x="859.7" y="875.9" class="lb">Basilicata (7,0%)</text>
<text x="325" y="795.7" class="lb">Sardegna (1,3%)</text>
<text x="608.7" y="940.6" class="lb">Calabria (3,3%)</text>
<text x="508.8" y="1012.2" class="lb">Sicilia (1,8%)</text>
<text x="104" y="301.5" class="nm">15.330</text>
<text x="270.5" y="315.5" class="nm">45.522</text>
<text x="383.2" y="206.3" class="nm">11.676</text>
<text x="363" y="263" class="nm">10.295</text>
<text x="504" y="255.7" class="nm">4.462</text>
<text x="423.3" y="309.4" class="nm">6.594</text>
<text x="141.5" y="371" class="nm">82.614</text>
<text x="361.7" y="422" class="nm">86.639</text>
<text x="196" y="448" class="nm">93.152</text>
<text x="362" y="529" class="nm">153.868</text>
<text x="516.6" y="533" class="nm">33.141</text>
<text x="472.4" y="573" class="nm">17.515</text>
<text x="574.9" y="640.9" class="nm">73.297</text>
<text x="495.5" y="669.7" class="nm">88.482</text>
<text x="634.9" y="690.7" class="nm">19.080</text>
<text x="649.4" y="772.4" class="nm">287.560</text>
<text x="790.6" y="750" class="nm">57.708</text>
<text x="752.2" y="801.8" class="nm">40.551</text>
<text x="783.8" y="940.6" class="nm">64.962</text>
<text x="622.8" y="1098.5" class="nm">89.268</text>
<text x="219.4" y="862.7" class="nm">21.950</text>
<text x="77.7" y="1217.2" class="tt">Popolazione a rischio frane residente</text>
<text x="77.7" y="1245.1" class="tt">in aree a pericolosità elevata P3</text>
<text x="77.7" y="1273" class="tt">e molto elevata P4 - PAI (n. ab.)</text>
<circle cx="110" cy="1328.8" r="33" fill="#fddc3a" stroke="#6a5a10" stroke-width="1.2"/>
<text x="78.6" y="1338.1" class="nm" style="font-size:25px;stroke-width:0.2px">4.462</text>
<text x="169.3" y="1337.4" class="lg">Popolazione a rischio (n. ab.)</text>
<text x="77.7" y="1398.6" class="nm" style="font-size:21.6px;stroke-width:0.2px">(0,4%)</text>
<text x="169.3" y="1397.9" class="lg">Percentuale rispetto al totale regionale della popolazione residente</text>
<text x="19.5" y="1516.3" style="font-size:15.4px">ISPRA, 2021</text>
<g id="ispra"><rect x="787.5" y="41.5" width="4" height="5" fill="#b8b8b8" transform="rotate(0.0 789.5 62)"/><rect x="787.5" y="41.5" width="4" height="5" fill="#b8b8b8" transform="rotate(22.5 789.5 62)"/><rect x="787.5" y="41.5" width="4" height="5" fill="#b8b8b8" transform="rotate(45.0 789.5 62)"/><rect x="787.5" y="41.5" width="4" height="5" fill="#b8b8b8" transform="rotate(67.5 789.5 62)"/><rect x="787.5" y="41.5" width="4" height="5" fill="#b8b8b8" transform="rotate(90.0 789.5 62)"/><rect x="787.5" y="41.5" width="4" height="5" fill="#b8b8b8" transform="rotate(112.5 789.5 62)"/><rect x="787.5" y="41.5" width="4" height="5" fill="#b8b8b8" transform="rotate(135.0 789.5 62)"/><rect x="787.5" y="41.5" width="4" height="5" fill="#b8b8b8" transform="rotate(157.5 789.5 62)"/><rect x="787.5" y="41.5" width="4" height="5" fill="#b8b8b8" transform="rotate(180.0 789.5 62)"/><rect x="787.5" y="41.5" width="4" height="5" fill="#b8b8b8" transform="rotate(202.5 789.5 62)"/><rect x="787.5" y="41.5" width="4" height="5" fill="#b8b8b8" transform="rotate(225.0 789.5 62)"/><rect x="787.5" y="41.5" width="4" height="5" fill="#b8b8b8" transform="rotate(247.5 789.5 62)"/><rect x="787.5" y="41.5" width="4" height="5" fill="#b8b8b8" transform="rotate(270.0 789.5 62)"/><rect x="787.5" y="41.5" width="4" height="5" fill="#b8b8b8" transform="rotate(292.5 789.5 62)"/><rect x="787.5" y="41.5" width="4" height="5" fill="#b8b8b8" transform="rotate(315.0 789.5 62)"/><rect x="787.5" y="41.5" width="4" height="5" fill="#b8b8b8" transform="rotate(337.5 789.5 62)"/><circle cx="789.5" cy="62" r="15.5" fill="none" stroke="#bdbdbd" stroke-width="5"/><polygon points="789.5,50.0 792.7,58.6 801.9,59.0 794.7,64.7 797.1,73.5 789.5,68.5 781.9,73.5 784.3,64.7 777.1,59.0 786.3,58.6" fill="#fff" stroke="#c07070" stroke-width="0.9"/><ellipse cx="784.7" cy="42.6" rx="3.6" ry="2.1" transform="rotate(381 784.7 42.6)" fill="#2f9e3a" stroke="#1d6e28" stroke-width="0.5"/><ellipse cx="783.7" cy="38.7" rx="3.6" ry="2.1" transform="rotate(311 783.7 38.7)" fill="#2f9e3a" stroke="#1d6e28" stroke-width="0.5"/><ellipse cx="780.1" cy="44.3" rx="3.6" ry="2.1" transform="rotate(367 780.1 44.3)" fill="#2f9e3a" stroke="#1d6e28" stroke-width="0.5"/><ellipse cx="778.2" cy="40.8" rx="3.6" ry="2.1" transform="rotate(297 778.2 40.8)" fill="#2f9e3a" stroke="#1d6e28" stroke-width="0.5"/><ellipse cx="776.1" cy="47.1" rx="3.6" ry="2.1" transform="rotate(353 776.1 47.1)" fill="#2f9e3a" stroke="#1d6e28" stroke-width="0.5"/><ellipse cx="773.4" cy="44.2" rx="3.6" ry="2.1" transform="rotate(283 773.4 44.2)" fill="#2f9e3a" stroke="#1d6e28" stroke-width="0.5"/><ellipse cx="772.9" cy="50.8" rx="3.6" ry="2.1" transform="rotate(339 772.9 50.8)" fill="#2f9e3a" stroke="#1d6e28" stroke-width="0.5"/><ellipse cx="769.6" cy="48.6" rx="3.6" ry="2.1" transform="rotate(269 769.6 48.6)" fill="#2f9e3a" stroke="#1d6e28" stroke-width="0.5"/><ellipse cx="770.7" cy="55.2" rx="3.6" ry="2.1" transform="rotate(325 770.7 55.2)" fill="#2f9e3a" stroke="#1d6e28" stroke-width="0.5"/><ellipse cx="766.9" cy="53.8" rx="3.6" ry="2.1" transform="rotate(255 766.9 53.8)" fill="#2f9e3a" stroke="#1d6e28" stroke-width="0.5"/><ellipse cx="769.6" cy="59.9" rx="3.6" ry="2.1" transform="rotate(311 769.6 59.9)" fill="#2f9e3a" stroke="#1d6e28" stroke-width="0.5"/><ellipse cx="765.6" cy="59.5" rx="3.6" ry="2.1" transform="rotate(241 765.6 59.5)" fill="#2f9e3a" stroke="#1d6e28" stroke-width="0.5"/><ellipse cx="769.7" cy="64.8" rx="3.6" ry="2.1" transform="rotate(297 769.7 64.8)" fill="#2f9e3a" stroke="#1d6e28" stroke-width="0.5"/><ellipse cx="765.7" cy="65.3" rx="3.6" ry="2.1" transform="rotate(227 765.7 65.3)" fill="#2f9e3a" stroke="#1d6e28" stroke-width="0.5"/><ellipse cx="771.0" cy="69.5" rx="3.6" ry="2.1" transform="rotate(283 771.0 69.5)" fill="#2f9e3a" stroke="#1d6e28" stroke-width="0.5"/><ellipse cx="767.2" cy="71.0" rx="3.6" ry="2.1" transform="rotate(213 767.2 71.0)" fill="#2f9e3a" stroke="#1d6e28" stroke-width="0.5"/><ellipse cx="773.3" cy="73.8" rx="3.6" ry="2.1" transform="rotate(269 773.3 73.8)" fill="#2f9e3a" stroke="#1d6e28" stroke-width="0.5"/><ellipse cx="770.1" cy="76.1" rx="3.6" ry="2.1" transform="rotate(199 770.1 76.1)" fill="#2f9e3a" stroke="#1d6e28" stroke-width="0.5"/><ellipse cx="794.3" cy="42.6" rx="3.6" ry="2.1" transform="rotate(-21 794.3 42.6)" fill="#2f9e3a" stroke="#1d6e28" stroke-width="0.5"/><ellipse cx="795.3" cy="38.7" rx="3.6" ry="2.1" transform="rotate(49 795.3 38.7)" fill="#2f9e3a" stroke="#1d6e28" stroke-width="0.5"/><ellipse cx="798.9" cy="44.3" rx="3.6" ry="2.1" transform="rotate(-7 798.9 44.3)" fill="#2f9e3a" stroke="#1d6e28" stroke-width="0.5"/><ellipse cx="800.8" cy="40.8" rx="3.6" ry="2.1" transform="rotate(63 800.8 40.8)" fill="#2f9e3a" stroke="#1d6e28" stroke-width="0.5"/><ellipse cx="802.9" cy="47.1" rx="3.6" ry="2.1" transform="rotate(7 802.9 47.1)" fill="#2f9e3a" stroke="#1d6e28" stroke-width="0.5"/><ellipse cx="805.6" cy="44.2" rx="3.6" ry="2.1" transform="rotate(77 805.6 44.2)" fill="#2f9e3a" stroke="#1d6e28" stroke-width="0.5"/><ellipse cx="806.1" cy="50.8" rx="3.6" ry="2.1" transform="rotate(21 806.1 50.8)" fill="#2f9e3a" stroke="#1d6e28" stroke-width="0.5"/><ellipse cx="809.4" cy="48.6" rx="3.6" ry="2.1" transform="rotate(91 809.4 48.6)" fill="#2f9e3a" stroke="#1d6e28" stroke-width="0.5"/><ellipse cx="808.3" cy="55.2" rx="3.6" ry="2.1" transform="rotate(35 808.3 55.2)" fill="#2f9e3a" stroke="#1d6e28" stroke-width="0.5"/><ellipse cx="812.1" cy="53.8" rx="3.6" ry="2.1" transform="rotate(105 812.1 53.8)" fill="#2f9e3a" stroke="#1d6e28" stroke-width="0.5"/><ellipse cx="809.4" cy="59.9" rx="3.6" ry="2.1" transform="rotate(49 809.4 59.9)" fill="#2f9e3a" stroke="#1d6e28" stroke-width="0.5"/><ellipse cx="813.4" cy="59.5" rx="3.6" ry="2.1" transform="rotate(119 813.4 59.5)" fill="#2f9e3a" stroke="#1d6e28" stroke-width="0.5"/><ellipse cx="809.3" cy="64.8" rx="3.6" ry="2.1" transform="rotate(63 809.3 64.8)" fill="#2f9e3a" stroke="#1d6e28" stroke-width="0.5"/><ellipse cx="813.3" cy="65.3" rx="3.6" ry="2.1" transform="rotate(133 813.3 65.3)" fill="#2f9e3a" stroke="#1d6e28" stroke-width="0.5"/><ellipse cx="808.0" cy="69.5" rx="3.6" ry="2.1" transform="rotate(77 808.0 69.5)" fill="#2f9e3a" stroke="#1d6e28" stroke-width="0.5"/><ellipse cx="811.8" cy="71.0" rx="3.6" ry="2.1" transform="rotate(147 811.8 71.0)" fill="#2f9e3a" stroke="#1d6e28" stroke-width="0.5"/><ellipse cx="805.7" cy="73.8" rx="3.6" ry="2.1" transform="rotate(91 805.7 73.8)" fill="#2f9e3a" stroke="#1d6e28" stroke-width="0.5"/><ellipse cx="808.9" cy="76.1" rx="3.6" ry="2.1" transform="rotate(161 808.9 76.1)" fill="#2f9e3a" stroke="#1d6e28" stroke-width="0.5"/><path d="M765,80 Q790,92 815,80 L816,88 Q790,100 764,88Z" fill="#d42030" stroke="#8a1018" stroke-width="0.6"/><path d="M778,84 L800,94 M802,84 L780,94" stroke="#4a2020" stroke-width="2.2"/><text x="790.3" y="121" text-anchor="middle" style="font-family:'Liberation Serif',serif;font-weight:700;font-size:25px">ISPRA</text><text x="790.7" y="136" text-anchor="middle" style="font-family:'Liberation Serif',serif;font-size:8.6px;fill:#333">Istituto Superiore per la Protezione</text><text x="790.7" y="146.5" text-anchor="middle" style="font-family:'Liberation Serif',serif;font-size:8.6px;fill:#333">e la Ricerca Ambientale</text></g>
<polygon points="885.2,45.5 881.5,52.0 874.0,52.0 870.2,45.5 874.0,39.0 881.5,39.0" fill="none" stroke="#667" stroke-width="1.3"/>
<polygon points="905.3,50.1 900.8,57.9 891.8,57.9 887.3,50.1 891.8,42.3 900.8,42.3" fill="none" stroke="#a6628a" stroke-width="1.3"/>
<polygon points="927.5,48.3 923.5,55.2 915.5,55.2 911.5,48.3 915.5,41.4 923.5,41.4" fill="none" stroke="#667" stroke-width="1.3"/>
<polygon points="889.5,61.3 885.0,69.1 876.0,69.1 871.5,61.3 876.0,53.5 885.0,53.5" fill="none" stroke="#667" stroke-width="1.3"/>
<polygon points="903.8,65.0 900.0,71.5 892.5,71.5 888.8,65.0 892.5,58.5 900.0,58.5" fill="none" stroke="#889" stroke-width="1.3"/>
<polygon points="922.0,63.1 917.5,70.9 908.5,70.9 904.0,63.1 908.5,55.3 917.5,55.3" fill="none" stroke="#556" stroke-width="1.3"/>
<polygon points="942.5,66.9 938.0,74.7 929.0,74.7 924.5,66.9 929.0,59.1 938.0,59.1" fill="none" stroke="#556" stroke-width="1.3"/>
<polygon points="955.9,72.4 952.1,78.9 944.6,78.9 940.9,72.4 944.6,65.9 952.1,65.9" fill="none" stroke="#667" stroke-width="1.3"/>
<polygon points="974.0,68.7 969.5,76.5 960.5,76.5 956.0,68.7 960.5,60.9 969.5,60.9" fill="none" stroke="#a6628a" stroke-width="1.3"/>
<polygon points="896.9,80.8 892.4,88.6 883.4,88.6 878.9,80.8 883.4,73.0 892.4,73.0" fill="none" stroke="#a6628a" stroke-width="1.3"/>
<polygon points="913.6,79.0 909.6,85.9 901.6,85.9 897.6,79.0 901.6,72.1 909.6,72.1" fill="none" stroke="#889" stroke-width="1.3"/>
<polygon points="929.8,77.1 926.0,83.6 918.5,83.6 914.8,77.1 918.5,70.6 926.0,70.6" fill="none" stroke="#a6628a" stroke-width="1.3"/>
<polygon points="945.3,85.5 940.8,93.3 931.8,93.3 927.3,85.5 931.8,77.7 940.8,77.7" fill="none" stroke="#667" stroke-width="1.3"/>
<polygon points="906.5,93.8 902.8,100.3 895.2,100.3 891.5,93.8 895.2,87.3 902.8,87.3" fill="none" stroke="#667" stroke-width="1.3"/>
<polygon points="924.8,92.9 920.3,100.7 911.3,100.7 906.8,92.9 911.3,85.1 920.3,85.1" fill="none" stroke="#667" stroke-width="1.3"/>
<polygon points="933.5,105.9 929.8,112.4 922.2,112.4 918.5,105.9 922.2,99.4 929.8,99.4" fill="none" stroke="#667" stroke-width="1.3"/>
<polygon points="920.0,115.5 915.2,123.7 905.8,123.7 901.0,115.5 905.8,107.3 915.2,107.3" fill="#7a1a50"/>
<g style="font-size:9.5px;fill:#3a3a3a"><text x="902" y="124" textLength="142" lengthAdjust="spacingAndGlyphs"><tspan fill="#fff">S</tspan>istema <tspan fill="#8a2a6a">N</tspan>azionale</text><text x="897.2" y="135" textLength="122" lengthAdjust="spacingAndGlyphs">per la <tspan fill="#b0508a">P</tspan>rotezione</text><text x="938" y="145.3" textLength="95" lengthAdjust="spacingAndGlyphs">dell'<tspan fill="#b0508a">A</tspan>mbiente</text></g>
</svg>
</body></html>
